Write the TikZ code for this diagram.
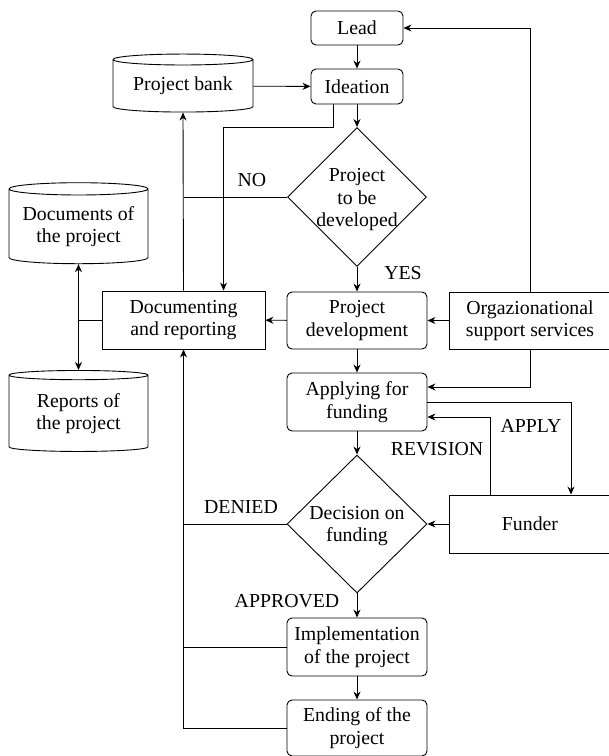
\documentclass[tikz,border=0pt]{standalone}
\usepackage{fontspec}
\setmainfont{Liberation Serif}
\usepackage{tikz}
\usetikzlibrary{arrows.meta, shapes.geometric, calc}

\begin{document}
\begin{tikzpicture}[x=1pt, y=-1pt, line width=0.9pt,
	font=\fontsize{19.8}{22.5}\selectfont,
	arr/.style={-{Stealth[length=8pt,width=7pt]}},
	box/.style={draw, rounded corners=5pt, align=center, inner sep=0pt},
	sqbox/.style={draw, align=center, inner sep=0pt},
	decision/.style={draw, diamond, inner sep=0pt},
	store/.style={draw, cylinder, shape border rotate=90, aspect=0.11, align=center, inner sep=0pt},
	lbl/.style={inner sep=0pt}]
	\useasboundingbox (0,0) rectangle (609,756);

	% top: lead, ideation, project bank
	\node[box, minimum width=92pt, minimum height=34pt] (lead) at (357,28) {Lead};
	\node[box, minimum width=92pt, minimum height=35pt] (idea) at (357,86.5) {Ideation};
	\node[store, minimum width=140pt, minimum height=58pt] (bank) at (183,86) {Project bank};

	% first decision
	\node[decision, minimum width=139pt, minimum height=139pt,
		label={[align=center, yshift=-3pt]center:Project\\to be\\developed}] (dev) at (357,197) {};

	% middle row
	\node[sqbox, minimum width=163pt, minimum height=58pt] (docrep) at (183.5,320) {Documenting\\and reporting};
	\node[box, minimum width=140pt, minimum height=57pt] (pdev) at (357,320.5) {Project\\development};
	\node[sqbox, minimum width=162pt, minimum height=57pt] (org) at (530,320.5) {Orgazionational\\support services};

	% archives
	\node[store, minimum width=139pt, minimum height=81pt] (docs) at (78.5,226.5) {Documents of\\the project};
	\node[store, minimum width=139pt, minimum height=81pt] (reps) at (78.5,413.5) {Reports of\\the project};

	% funding
	\node[box, minimum width=140pt, minimum height=58pt] (apply) at (357,402) {Applying for\\funding};
	\node[decision, minimum width=140pt, minimum height=138pt,
		label={[align=center, yshift=-2pt]center:Decision on\\funding}] (fund) at (357,524) {};
	\node[sqbox, minimum width=162pt, minimum height=58pt] (funder) at (530,524) {Funder};

	% bottom
	\node[box, minimum width=140pt, minimum height=58pt] (impl) at (357,647) {Implementation\\of the project};
	\node[box, minimum width=140pt, minimum height=56pt] (ending) at (357,728) {Ending of the\\project};

	% connectors
	\draw[arr] (lead) -- (idea);
	\draw[arr] (bank) -- (idea);
	\draw[arr] (idea) -- (dev);
	\draw[arr] ([xshift=-24pt]idea.south) -- ++(0,23) -| ([xshift=40pt]docrep.north);
	\draw[arr] (docrep.north) -- (bank.south);
	\draw (dev.west) -- (dev.west -| docrep.north);
	\node[lbl] (no) at (252,180) {NO};
	\draw[arr] (dev) -- (pdev);
	\node[lbl] (yes) at (403,273) {YES};
	\draw[arr] (pdev) -- (docrep);
	\draw[arr] (org) -- (pdev);
	\draw[arr] (org.north) |- (lead.east);

	\draw (docrep.west) -- (docrep.west -| docs.south);
	\draw[{Stealth[length=8pt,width=7pt]}-{Stealth[length=8pt,width=7pt]}] (docs.south) -- (reps.north);

	\draw[arr] (pdev) -- (apply);
	\draw[arr] (org.south) |- ([yshift=15pt]apply.east);
	\draw[arr] (apply.east) -| ([xshift=41pt]funder.north);
	\node[lbl] (applylbl) at (531,426) {APPLY};
	\draw[arr] ([xshift=-40pt]funder.north) |- ([yshift=-15pt]apply.east);
	\node[lbl] (revlbl) at (437,449) {REVISION};
	\draw[arr] (apply) -- (fund);
	\draw[arr] (funder) -- (fund);

	\draw (fund.west) -- (fund.west -| docrep.south);
	\node[lbl] (denied) at (241,507) {DENIED};
	\draw[arr] (fund) -- (impl);
	\node[lbl] (approved) at (287,601) {APPROVED};
	\draw[arr] (impl) -- (ending);
	\draw (impl.west) -- (impl.west -| docrep.south);
	\draw[arr] (ending.west) -| (docrep.south);
\end{tikzpicture}
\end{document}
